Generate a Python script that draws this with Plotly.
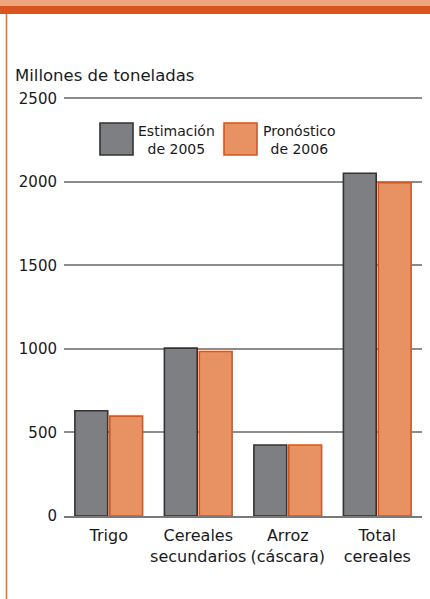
import plotly.graph_objects as go

categories = ["Trigo", "Cereales<br>secundarios", "Arroz<br>(cáscara)", "Total<br>cereales"]
series_names = ["Estimación<br>de 2005", "Pronóstico<br>de 2006"]
est_2005 = [630, 1005, 425, 2052]
pron_2006 = [598, 985, 425, 1995]
y_ticks = [0, 500, 1000, 1500, 2000, 2500]
y_title = "Millones de toneladas"

W, H = 430, 599
L, R, T, B = 64, 8, 95, 83
pw, ph = W - L - R, H - T - B

def px(x):
    return (x - L) / pw

def py(y):
    return (H - B - y) / ph

FONT = "DejaVu Sans"
TXT = "#1a1a1a"
GRAY_FILL, GRAY_LINE = "#7e7f83", "#333333"
OR_FILL, OR_LINE = "#e89263", "#d9541e"

fig = go.Figure()
fig.add_trace(go.Bar(x=categories, y=est_2005, name=series_names[0],
                     marker=dict(color=GRAY_FILL, line=dict(color=GRAY_LINE, width=1.6)),
                     showlegend=False))
fig.add_trace(go.Bar(x=categories, y=pron_2006, name=series_names[1],
                     marker=dict(color=OR_FILL, line=dict(color=OR_LINE, width=1.6)),
                     showlegend=False))

shapes = [
    # top bands
    dict(type="rect", xref="paper", yref="paper", x0=px(0), x1=px(W), y0=py(0), y1=py(6),
         fillcolor="#eca57c", line=dict(width=0), layer="above"),
    dict(type="rect", xref="paper", yref="paper", x0=px(0), x1=px(W), y0=py(6), y1=py(14),
         fillcolor="#d9541f", line=dict(width=0), layer="above"),
    # left accent line
    dict(type="line", xref="paper", yref="paper", x0=px(6.5), x1=px(6.5), y0=py(14), y1=py(H),
         line=dict(color="#e8743b", width=1.6)),
    # legend boxes
    dict(type="rect", xref="paper", yref="paper", x0=px(100), x1=px(133), y0=py(155), y1=py(123),
         fillcolor=GRAY_FILL, line=dict(color=GRAY_LINE, width=1.6)),
    dict(type="rect", xref="paper", yref="paper", x0=px(224), x1=px(257), y0=py(155), y1=py(123),
         fillcolor=OR_FILL, line=dict(color=OR_LINE, width=1.6)),
]

annotations = [
    dict(text=y_title, xref="paper", yref="paper", x=px(13), y=py(75), xanchor="left",
         yanchor="middle", showarrow=False, font=dict(family=FONT, size=16.5, color=TXT)),
    dict(text=series_names[0], xref="paper", yref="paper", x=px(176), y=py(140), xanchor="center",
         yanchor="middle", showarrow=False, font=dict(family=FONT, size=14, color=TXT)),
    dict(text=series_names[1], xref="paper", yref="paper", x=px(299), y=py(140), xanchor="center",
         yanchor="middle", showarrow=False, font=dict(family=FONT, size=14, color=TXT)),
]

fig.update_layout(
    width=W, height=H,
    margin=dict(l=L, r=R, t=T, b=B, pad=0),
    paper_bgcolor="white", plot_bgcolor="white",
    barmode="group", bargap=0.22, bargroupgap=0.06,
    font=dict(family=FONT, size=15, color=TXT),
    shapes=shapes, annotations=annotations,
    showlegend=False,
)
fig.update_yaxes(range=[0, 2520], tickvals=y_ticks, showgrid=True, gridcolor="#8c8c8c",
                 gridwidth=1.6, zeroline=False, showline=False, ticks="",
                 ticklabelstandoff=6, tickfont=dict(family=FONT, size=15, color=TXT),
                 fixedrange=True)
fig.update_xaxes(showline=True, linecolor="#7a7a7a", linewidth=2, ticks="",
                 tickfont=dict(family=FONT, size=16, color=TXT), ticklabelstandoff=4,
                 fixedrange=True)

fig.write_html("out.html", config={"displayModeBar": False},
               post_script="document.body.style.margin='0';")
